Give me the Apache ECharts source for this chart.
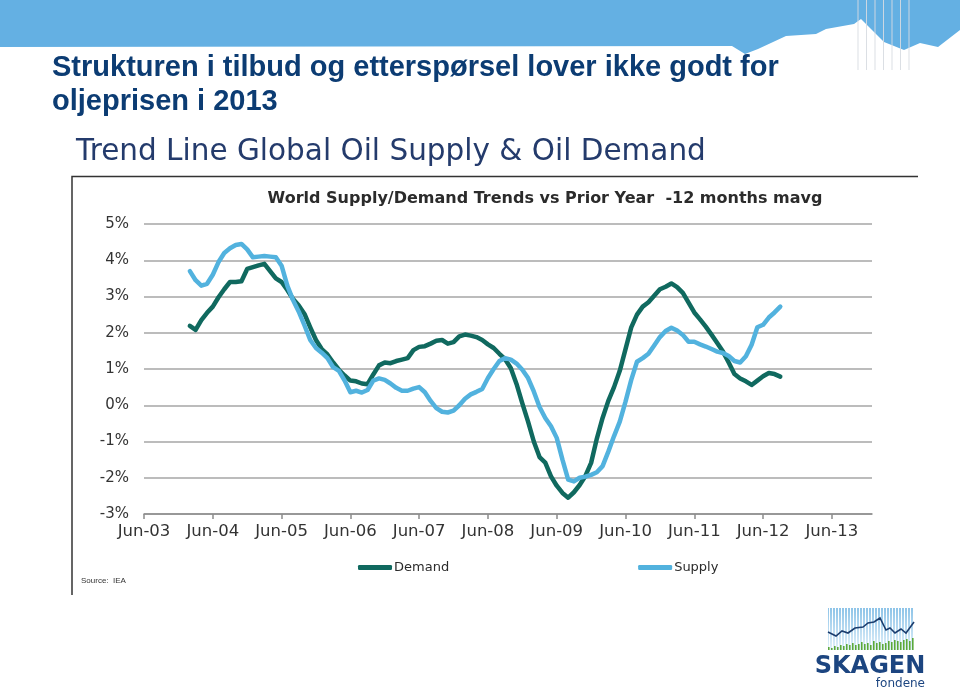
<!DOCTYPE html>
<html><head><meta charset="utf-8">
<script src="https://cdn.jsdelivr.net/npm/echarts@6/dist/echarts.min.js"></script>
<style>html,body{margin:0;padding:0;background:#fff;}#c{width:960px;height:692px;}</style>
</head><body><div id="c"></div>
<script>
// x positions: months after Jun-03; first observation = Feb-04
const firstMonth = 8;
const tickLabels = ['Jun-03','Jun-04','Jun-05','Jun-06','Jun-07','Jun-08','Jun-09','Jun-10','Jun-11','Jun-12','Jun-13'];
const yTicks = [-3,-2,-1,0,1,2,3,4,5];
// Demand, % vs prior year, monthly Feb-04 .. Sep-12
const demand = [
 2.19,2.08,2.35,2.55,2.72,2.98,3.20,3.40,3.40,3.42,3.76,3.81,3.86,3.90,3.70,3.50,
 3.40,3.18,2.93,2.75,2.52,2.15,1.80,1.55,1.40,1.18,0.98,0.82,0.68,0.66,0.60,0.58,
 0.85,1.10,1.18,1.16,1.22,1.26,1.30,1.52,1.61,1.63,1.70,1.78,1.80,1.70,1.74,1.90,
 1.95,1.92,1.88,1.80,1.68,1.58,1.42,1.27,1.02,0.58,0.05,-0.45,-1.00,-1.43,-1.58,-1.96,
 -2.22,-2.42,-2.55,-2.40,-2.20,-1.95,-1.59,-0.92,-0.35,0.12,0.50,0.95,1.55,2.15,2.50,2.72,
 2.84,3.02,3.20,3.27,3.36,3.26,3.10,2.83,2.56,2.37,2.17,1.95,1.72,1.48,1.18,0.86,
 0.74,0.66,0.56,0.68,0.80,0.89,0.86,0.79
];
// Supply, % vs prior year, monthly Feb-04 .. Sep-12
const supply = [
 3.70,3.45,3.30,3.35,3.60,3.95,4.20,4.33,4.42,4.45,4.30,4.08,4.10,4.12,4.10,4.08,
 3.85,3.30,2.90,2.58,2.20,1.80,1.58,1.45,1.30,1.05,0.95,0.68,0.36,0.40,0.35,0.42,
 0.68,0.74,0.70,0.60,0.48,0.40,0.40,0.46,0.50,0.36,0.12,-0.08,-0.18,-0.20,-0.15,0.00,
 0.18,0.30,0.37,0.45,0.75,1.00,1.22,1.30,1.26,1.15,0.98,0.75,0.38,-0.05,-0.35,-0.58,
 -0.90,-1.50,-2.05,-2.10,-2.00,-1.97,-1.92,-1.85,-1.68,-1.28,-0.85,-0.45,0.10,0.70,1.20,1.30,
 1.42,1.65,1.88,2.05,2.14,2.06,1.94,1.75,1.75,1.68,1.62,1.55,1.48,1.44,1.36,1.22,
 1.18,1.35,1.67,2.15,2.22,2.42,2.56,2.72
];

const toPairs = arr => arr.map((v, i) => [firstMonth + i, v]);
const tickVals = tickLabels.map((_, i) => i * 12);

const DARK = '#10695f', LIGHT = '#52b2de';

const graphics = [];
// top banner
graphics.push({type:'polygon', silent:true, z:0, shape:{points:[[0,0],[960,0],[960,30],[938,47],[920,43],[904,50],[884,42],[861,19],[854,24],[826,29],[816,34],[786,36],[758,49],[745,54],[732,46],[0,47]]}, style:{fill:'#64b0e3'}});
for (let i = 0; i < 7; i++) {
  graphics.push({type:'line', silent:true, z:1, shape:{x1:858+i*8.5, y1:0, x2:858+i*8.5, y2:70}, style:{stroke:'rgba(215,220,225,0.9)', lineWidth:1}});
}
// slide title
graphics.push({type:'text', left:52, top:51, z:5, style:{text:'Strukturen i tilbud og etterspørsel lover ikke godt for\noljeprisen i 2013', font:'bold 29px "Liberation Sans", Arial, sans-serif', fill:'#0c3c73', lineHeight:34}});
// subtitle
graphics.push({type:'text', left:76, top:137, z:5, style:{text:'Trend Line Global Oil Supply & Oil Demand', font:'29.5px "DejaVu Sans", sans-serif', fill:'#243b6c'}});
// chart frame
graphics.push({type:'polyline', silent:true, z:2, shape:{points:[[72,595],[72,176.5],[918,176.5]]}, style:{stroke:'#333', lineWidth:1.5, fill:null}});
// chart title
graphics.push({type:'text', x:545, y:199, z:5, style:{text:'World Supply/Demand Trends vs Prior Year  -12 months mavg', font:'bold 16px "DejaVu Sans", sans-serif', fill:'#2b2b2b', align:'center', verticalAlign:'middle'}});
// source
graphics.push({type:'text', x:81, y:581, z:5, style:{text:'Source:  IEA', font:'8px "Liberation Sans", Arial, sans-serif', fill:'#333', verticalAlign:'middle'}});
// logo
const logo = {type:'group', x:828, y:608, children:[]};
logo.children.push({type:'rect', shape:{x:0,y:0,width:86,height:42}, style:{fill:new echarts.graphic.LinearGradient(0,0,0,1,[{offset:0,color:'#8ec4e8'},{offset:1,color:'#e2f1fa'}])}});
for (let i = 0; i < 29; i++) {
  logo.children.push({type:'line', shape:{x1:1.5+i*3, y1:0, x2:1.5+i*3, y2:42}, style:{stroke:'#ffffff', lineWidth:1}});
}
const gh = [3,2,4,3,5,4,6,5,7,5,6,8,6,7,5,9,7,8,6,7,9,8,10,9,8,10,11,9,12];
gh.forEach((h, i) => logo.children.push({type:'rect', shape:{x:i*3, y:42-h, width:1.6, height:h}, style:{fill:'#5aa83c'}}));
logo.children.push({type:'polyline', shape:{points:[[0,24],[8,28],[14,23],[20,25],[27,20],[35,19],[40,15],[46,14],[52,10],[58,22],[62,20],[67,25],[73,21],[78,25],[86,14]]}, style:{stroke:'#1b3d6e', lineWidth:1.6, fill:null}});
graphics.push(logo);
graphics.push({type:'text', x:870, y:667, z:5, style:{text:'SKAGEN', font:'bold 24px "DejaVu Sans", sans-serif', fill:'#1c4580', align:'center', verticalAlign:'middle'}});
graphics.push({type:'text', x:925, y:684, z:5, style:{text:'fondene', font:'12px "DejaVu Sans", sans-serif', fill:'#1c4580', align:'right', verticalAlign:'middle'}});

const chart = echarts.init(document.getElementById('c'), null, {renderer:'canvas'});
chart.setOption({
  animation:false,
  backgroundColor:'#ffffff',
  graphic:graphics,
  grid:{left:144, right:88, top:224, bottom:178, containLabel:false},
  legend:{
    left:353, top:556, itemGap:189, itemWidth:34, itemHeight:5, icon:'roundRect',
    textStyle:{fontFamily:'"DejaVu Sans", sans-serif', fontSize:13, color:'#2b2b2b', padding:[0,0,0,-3]},
    data:['Demand','Supply']
  },
  xAxis:{
    type:'value', min:0, max:127,
    axisLine:{show:true, onZero:false, lineStyle:{color:'#8c8c8c', width:1.5}},
    axisTick:{show:true, customValues:tickVals, length:5, lineStyle:{color:'#8c8c8c', width:1.5}},
    axisLabel:{customValues:tickVals, margin:9, fontFamily:'"DejaVu Sans", sans-serif', fontSize:16.5, color:'#333',
      formatter:v => tickLabels[Math.round(v/12)] || ''},
    splitLine:{show:false}
  },
  yAxis:{
    type:'value', min:-3, max:5, interval:1,
    axisLine:{show:false}, axisTick:{show:false},
    axisLabel:{margin:15, fontFamily:'"DejaVu Sans", sans-serif', fontSize:15, color:'#333', formatter:'{value}%'},
    splitLine:{show:true, lineStyle:{color:'#a6a6a6', width:1.5}}
  },
  series:[
    {name:'Demand', type:'line', data:toPairs(demand), showSymbol:false, symbol:'none', color:DARK,
     lineStyle:{width:4.5, color:DARK, cap:'round', join:'round'}},
    {name:'Supply', type:'line', data:toPairs(supply), showSymbol:false, symbol:'none', color:LIGHT,
     lineStyle:{width:4.5, color:LIGHT, cap:'round', join:'round'}}
  ]
});
</script></body></html>
